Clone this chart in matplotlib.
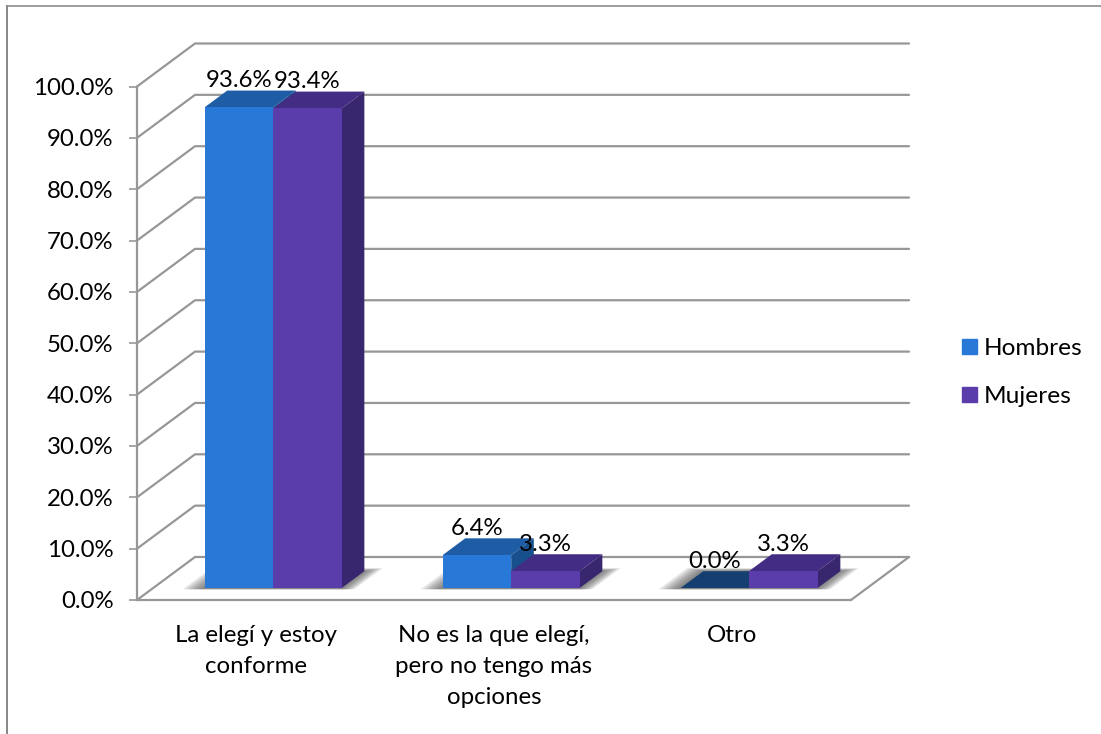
import matplotlib
matplotlib.use('Agg')
import matplotlib.pyplot as plt
from matplotlib.lines import Line2D
from matplotlib.patches import Patch, Polygon
from matplotlib.ticker import PercentFormatter

plt.rcParams['font.family'] = ['Lato', 'DejaVu Sans']

categories = ['La elegí y estoy\nconforme',
              'No es la que elegí,\npero no tengo más\nopciones',
              'Otro']
hombres = [93.6, 6.4, 0.0]
mujeres = [93.4, 3.3, 3.3]
yticks = [0, 10, 20, 30, 40, 50, 60, 70, 80, 90, 100]

W, H = 1101, 734
GRID = '#979797'
BLUE = ('#2878d8', '#1f5ca6', '#17508c')     # front, top, side
PURPLE = ('#5a3dab', '#432c83', '#38276f')
ZERO_TOP = '#143f70'
FONT = 17.3

# the front plane of the 3D box, in pixels
left, right, bottom, top = 137, 851, 600, 86.5
fig = plt.figure(figsize=(W / 100, H / 100), dpi=100)
ax = fig.add_axes([left / W, 1 - bottom / H, (right - left) / W, (bottom - top) / H])
ax.set_xlim(0, 3)
ax.set_ylim(0, 100)
ax.patch.set_visible(False)

# depth of the box, in data units
DX = 58 / ((right - left) / 3)
DY = 43 / ((bottom - top) / 100)


def proj(x, y, d):
    return (x + d * DX, y + d * DY)


def face(points, color, z, **kw):
    ax.add_patch(Polygon(points, closed=True, facecolor=color, edgecolor='none',
                         clip_on=False, zorder=z, **kw))


def wire(points, z=1):
    xs, ys = zip(*points)
    ax.plot(xs, ys, color=GRID, lw=1.6, clip_on=False, zorder=z, solid_capstyle='round')


# walls
for v in yticks:
    wire([proj(0, v, 0), proj(0, v, 1), proj(3, v, 1)])
wire([proj(3, 0, 0), proj(3, 0, 1)])

BAR_W = 0.288
D0, D1 = 0.28, 0.67


def bar(x0, value, colors, z):
    x1 = x0 + BAR_W
    front, roof, side = colors
    if value == 0:
        roof = ZERO_TOP
    face([proj(x0, value, D0), proj(x0, value, D1), proj(x1, value, D1), proj(x1, value, D0)], roof, z)
    face([proj(x1, 0, D0), proj(x1, 0, D1), proj(x1, value, D1), proj(x1, value, D0)], side, z)
    face([proj(x0, 0, D0), proj(x1, 0, D0), proj(x1, value, D0), proj(x0, value, D0)], front, z + 0.1)
    ax.annotate(f'{value:.1f}%', xy=proj(x0 + BAR_W / 2, value, D0), xytext=(0, 14.5),
                textcoords='offset points', ha='center', va='baseline', fontsize=FONT,
                color='black', annotation_clip=False, zorder=20)


for i in range(len(categories)):
    c = i + 0.504
    # soft shadow on the floor
    for k in range(7):
        e = 0.085 * (1 - k / 7)
        face([proj(c - BAR_W - e, 0, D0 - 0.03),
              proj(c + BAR_W + e * 0.7, 0, D0 - 0.03),
              proj(c + BAR_W + e * 0.7, 0, D1 + 0.07 - 0.01 * k),
              proj(c - BAR_W - e, 0, D1 + 0.07 - 0.01 * k)], '#444444', 2, alpha=0.13)
    bar(c - BAR_W, hombres[i], BLUE, 3 + i)
    bar(c, mujeres[i], PURPLE, 3.3 + i)

# axes
ax.set_yticks(yticks)
ax.yaxis.set_major_formatter(PercentFormatter(decimals=1))
ax.set_xticks([i + 0.5 for i in range(len(categories))])
ax.set_xticklabels(categories, linespacing=1.6)
ax.tick_params(axis='y', length=6, width=1.2, color=GRID, pad=11, labelsize=FONT)
ax.tick_params(axis='x', length=0, pad=18, labelsize=FONT)
for s in ['top', 'right']:
    ax.spines[s].set_visible(False)
for s in ['left', 'bottom']:
    ax.spines[s].set_color(GRID)
    ax.spines[s].set_linewidth(1.6)
    ax.spines[s].set_zorder(2)

fig.legend(handles=[Patch(color=BLUE[0], label='Hombres'), Patch(color=PURPLE[0], label='Mujeres')],
           loc='center left', bbox_to_anchor=(962 / W, 1 - 372.5 / H), frameon=False, fontsize=17.6,
           handlelength=0.6, handleheight=0.6, handletextpad=0.27, labelspacing=1.1,
           borderpad=0, borderaxespad=0)

# outer border, only left and top show in the picture
fig.add_artist(Line2D([7 / W, 7 / W], [0, 1 - 5.8 / H], color='#868686', lw=1.4, transform=fig.transFigure))
fig.add_artist(Line2D([7 / W, 1], [1 - 5.8 / H, 1 - 5.8 / H], color='#8c8c8c', lw=1.2, transform=fig.transFigure))

fig.savefig('out.png', dpi=100)
